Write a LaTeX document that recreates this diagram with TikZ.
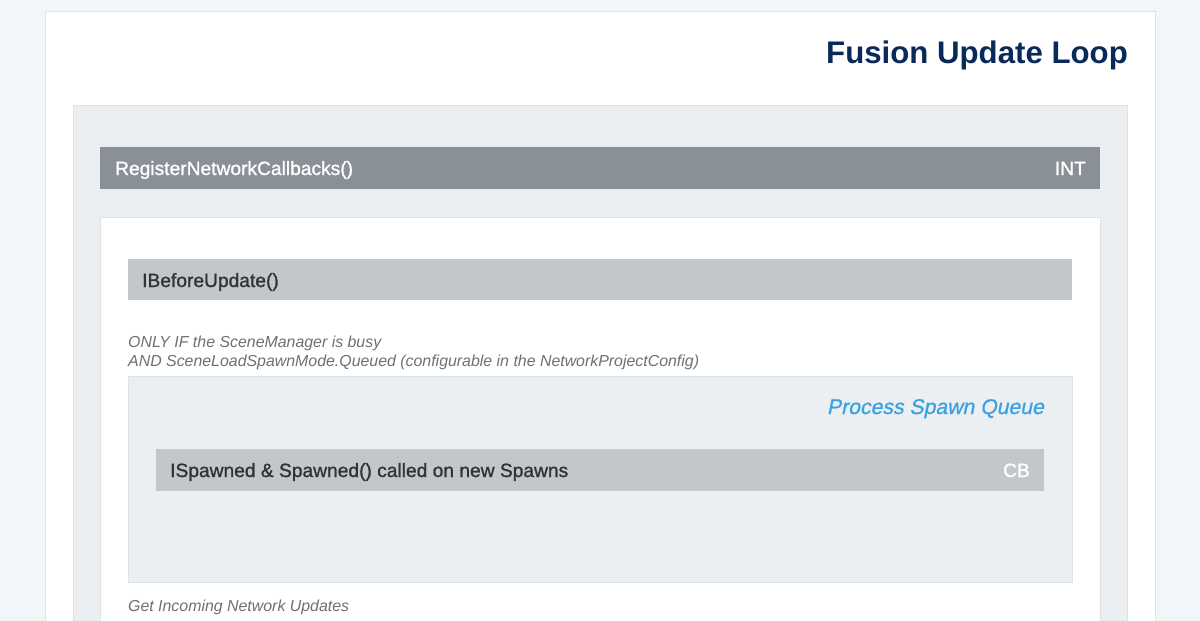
\documentclass[tikz,border=0pt]{standalone}
\usepackage{fontspec}
\setmainfont{Liberation Sans}
\newfontfamily\medfont[FakeBold=1.2]{Liberation Sans}
\newfontfamily\meditfont[FakeBold=0.8,FakeSlant=0.2]{Liberation Sans}
\definecolor{pagebg}{HTML}{F3F6F9}
\definecolor{panelgray}{HTML}{EBEFF2}
\definecolor{bordergray}{HTML}{DDE2E6}
\definecolor{bardark}{HTML}{8A9098}
\definecolor{barlight}{HTML}{C3C7CA}
\definecolor{navy}{HTML}{08295A}
\definecolor{bluelbl}{HTML}{3BA1E2}
\definecolor{textdark}{HTML}{333333}
\definecolor{textgray}{HTML}{707070}
\begin{document}
\begin{tikzpicture}[x=1pt,y=-1pt,
  panel/.style={draw=bordergray,line width=1pt,inner sep=0pt,outer sep=0pt,anchor=north west},
  bar/.style={inner sep=0pt,outer sep=0pt,anchor=north west,minimum height=42pt},
  bartext/.style={font=\medfont\fontsize{19.2}{22}\selectfont,inner sep=0pt,anchor=base west},
  tagtext/.style={font=\medfont\fontsize{19.2}{22}\selectfont,inner sep=0pt,anchor=base east,text=white},
  note/.style={font=\fontsize{15.9}{19}\selectfont\itshape,text=textgray,inner sep=0pt,anchor=base west}
]
\useasboundingbox (0,0) rectangle (1200,621);
\clip (0,0) rectangle (1200,621);
\fill[pagebg] (0,0) rectangle (1200,621);
% outer white panel
\node[panel,fill=white,minimum width=1110pt,minimum height=640pt] (outer) at (45,11) {};
\node[font=\fontsize{31.2}{36}\selectfont\bfseries,text=navy,anchor=base east,inner sep=0pt] (title) at (1128,63) {Fusion Update Loop};
% gray panel
\node[panel,fill=panelgray,minimum width=1054pt,minimum height=560pt] (grayp) at (73,105) {};
% Register bar
\node[bar,fill=bardark,minimum width=1000pt] (reg) at (100,147) {};
\node[bartext,text=white] (regt) at (115,175) {RegisterNetworkCallbacks()};
\node[tagtext] (regtag) at (1086,175) {INT};
% white inner panel
\node[panel,fill=white,minimum width=1000pt,minimum height=450pt] (whitep) at (100,217) {};
% IBeforeUpdate bar
\node[bar,fill=barlight,minimum width=944pt,minimum height=41pt] (ibu) at (128,259) {};
\node[bartext,text=textdark] (ibut) at (142,287) {IBeforeUpdate()};
% notes
\node[note] (note1) at (128,347.5) {ONLY IF the SceneManager is busy};
\node[note] (note2) at (128,366.5) {AND SceneLoadSpawnMode.Queued (configurable in the NetworkProjectConfig)};
% spawn queue box
\node[panel,fill=panelgray,minimum width=944pt,minimum height=206pt] (queue) at (128,376) {};
\node[font=\meditfont\fontsize{21.2}{25}\selectfont,text=bluelbl,anchor=base east,inner sep=0pt] (queuet) at (1044,414) {Process Spawn Queue};
\node[bar,fill=barlight,minimum width=888pt] (spawn) at (156,449) {};
\node[bartext,text=textdark] (spawnt) at (170,477) {ISpawned \& Spawned() called on new Spawns};
\node[tagtext] (spawntag) at (1030,477) {CB};
% bottom note
\node[note] (note3) at (128,611.5) {Get Incoming Network Updates};
\end{tikzpicture}
\end{document}
